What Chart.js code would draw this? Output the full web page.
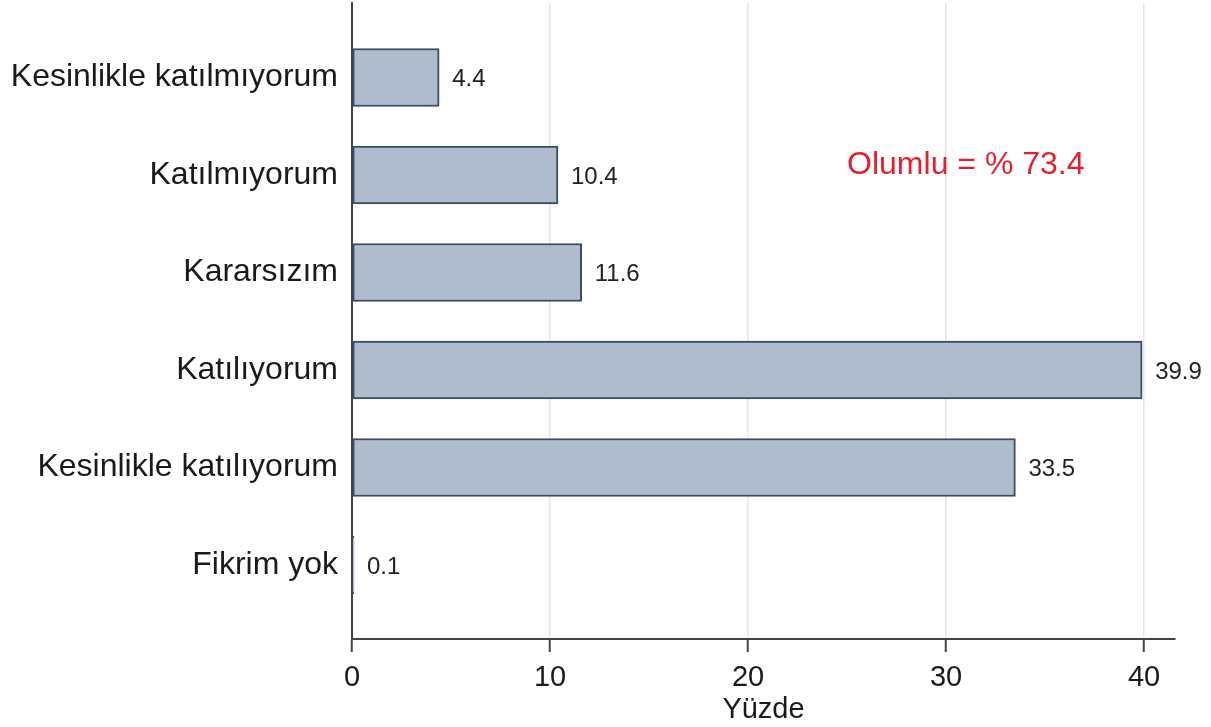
<!DOCTYPE html>
<html>
<head>
<meta charset="utf-8">
<script src="https://cdn.jsdelivr.net/npm/chart.js@4.4.1/dist/chart.umd.min.js"></script>
<style>
html,body{margin:0;padding:0;background:#fff;}
#wrap{width:1211px;height:727px;position:relative;}
</style>
</head>
<body>
<div id="wrap"><canvas id="c" width="1211" height="727"></canvas></div>
<script>
const categories = ["Kesinlikle katılmıyorum", "Katılmıyorum", "Kararsızım", "Katılıyorum", "Kesinlikle katılıyorum", "Fikrim yok"];
const values = [4.4, 10.4, 11.6, 39.9, 33.5, 0.1];
const xTicks = [0, 10, 20, 30, 40];
const xTitle = "Yüzde";
const noteText = "Olumlu = % 73.4";
const notePos = [25, 0.9];

const FONT = "'Liberation Sans', Arial, sans-serif";

const valueLabels = {
  id: 'valueLabels',
  afterDatasetsDraw(chart) {
    const ctx = chart.ctx;
    const meta = chart.getDatasetMeta(0);
    ctx.save();
    ctx.font = "24px " + FONT;
    ctx.fillStyle = "#222";
    ctx.textAlign = "left";
    ctx.textBaseline = "middle";
    meta.data.forEach((el, i) => {
      ctx.fillText(values[i].toFixed(1), el.x + 13, el.y + 2);
    });
    const xs = chart.scales.x, ys = chart.scales.y;
    ctx.font = "32px " + FONT;
    ctx.fillStyle = "#e5202e";
    ctx.fillText(noteText, xs.getPixelForValue(notePos[0]), ys.getPixelForValue(notePos[1]));
    ctx.restore();
  }
};

new Chart(document.getElementById('c'), {
  type: 'bar',
  data: {
    datasets: [{
      data: values.map((v, i) => ({x: v, y: i})),
      backgroundColor: '#aebccd',
      borderColor: '#3b4c5f',
      borderWidth: 2,
      borderSkipped: false,
      barThickness: 58
    }]
  },
  options: {
    indexAxis: 'y',
    responsive: false,
    animation: false,
    layout: {padding: {top: 3, right: 36, left: 0, bottom: 0}},
    plugins: {legend: {display: false}, tooltip: {enabled: false}},
    scales: {
      x: {
        type: 'linear',
        min: 0,
        max: 41.56,
        offset: false,
        afterBuildTicks(scale) { scale.ticks = xTicks.map(v => ({value: v})); },
        afterFit(scale) { scale.height = 88; },
        ticks: {
          font: {size: 29, family: FONT},
          color: '#1a1a1a',
          padding: 9,
          maxRotation: 0,
          autoSkip: false
        },
        grid: {
          color: '#e6e6e6',
          lineWidth: 1.5,
          drawTicks: true,
          tickLength: 13,
          tickColor: '#444',
          tickWidth: 2,
          offset: false
        },
        border: {display: true, color: '#444', width: 2},
        title: {
          display: true,
          text: xTitle,
          font: {size: 29, family: FONT},
          color: '#1a1a1a',
          padding: {top: -13, bottom: 0}
        }
      },
      y: {
        type: 'linear',
        reverse: true,
        min: -0.764,
        max: 5.759,
        offset: false,
        afterBuildTicks(scale) { scale.ticks = categories.map((c, i) => ({value: i})); },
        afterFit(scale) { scale.width = 352; scale.paddingTop = 0; scale.paddingBottom = 0; },
        ticks: {
          font: {size: 32, family: FONT},
          color: '#1a1a1a',
          padding: 14,
          autoSkip: false,
          callback: (v) => categories[v]
        },
        grid: {display: false, drawTicks: false, offset: false},
        border: {display: true, color: '#444', width: 2}
      }
    }
  },
  plugins: [valueLabels]
});
</script>
</body>
</html>
